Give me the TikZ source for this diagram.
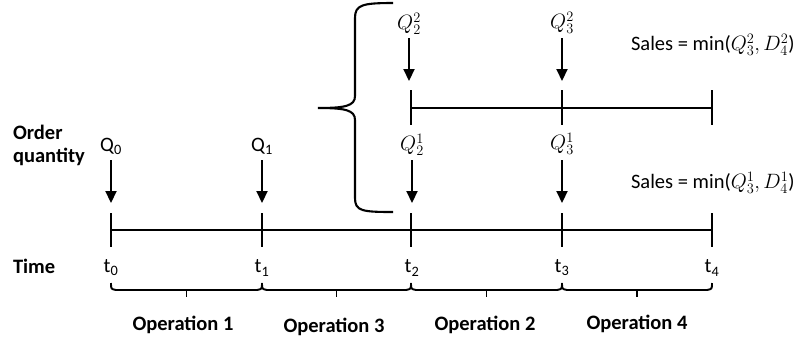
\documentclass[tikz,border=0pt]{standalone}
\usepackage{fontspec}
\setmainfont{Carlito}
\usetikzlibrary{arrows.meta}
\begin{document}
\begin{tikzpicture}[x=1pt,y=-1pt,
  font=\fontsize{20.5}{23}\selectfont,
  line width=2.1pt,
  arr/.style={-{Triangle[width=11pt,length=12pt]}, line width=2.1pt},
  lbl/.style={inner sep=0pt, anchor=center},
  hdr/.style={inner sep=0pt, anchor=west, font=\fontsize{20.5}{23}\selectfont\bfseries},
  opname/.style={inner sep=0pt, anchor=center, font=\fontsize{20.5}{23}\selectfont\bfseries},
  opbrace/.style={line width=1.9pt},
  tick/.style={line width=2.1pt}]
\useasboundingbox (0,0) rectangle (797,341);

% main timeline coordinates
\foreach \i/\x in {0/111,1/262,2/411,3/562,4/712}{
  \coordinate (T\i) at (\x,230);
  \coordinate (T\i u) at (\x,213);
  \coordinate (T\i d) at (\x,247);
  \coordinate (A\i) at (\x,203);
}
\draw (T0) -- (T4);
\foreach \i in {0,...,4}{ \draw[tick] (T\i u) -- (T\i d); }

% upper timeline
\foreach \i/\x in {2/411,3/562,4/712}{
  \coordinate (U\i) at (\x,108);
  \coordinate (U\i u) at (\x,90);
  \coordinate (U\i d) at (\x,125);
  \coordinate (B\i) at (\x,81);
}
\draw (U2) -- (U4);
\foreach \i in {2,3,4}{ \draw[tick] (U\i u) -- (U\i d); }

% labels on the left
\node[hdr] (order) at (12,132) {Order};
\node[hdr] (quant) at (12,157) {quantity};
\node[hdr] (time) at (12,266) {Time};

% order quantities on main line
\node[lbl] (q0) at (111,146) {Q\textsubscript{0}};
\node[lbl] (q1) at (262,146) {Q\textsubscript{1}};
\node[lbl] (q21) at (412,145) {$Q_2^1$};
\node[lbl] (q31) at (562,144) {$Q_3^1$};
\coordinate (s0) at (111,160);
\coordinate (s1) at (262,160);
\coordinate (s2) at (412,160);
\coordinate (s3) at (562,160);
\coordinate (A2b) at (412,203);
\draw[arr] (s0) -- (A0);
\draw[arr] (s1) -- (A1);
\draw[arr] (s2) -- (A2b);
\draw[arr] (s3) -- (A3);

% upper quantities
\node[lbl] (q22) at (409,24) {$Q_2^2$};
\node[lbl] (q32) at (562,23) {$Q_3^2$};
\coordinate (r2) at (409,38);
\coordinate (r3) at (562,38);
\coordinate (B2b) at (409,81);
\draw[arr] (r2) -- (B2b);
\draw[arr] (r3) -- (B3);

% time labels
\node[lbl] (t0) at (111,268) {t\textsubscript{0}};
\node[lbl] (t1) at (262,268) {t\textsubscript{1}};
\node[lbl] (t2) at (412,268) {t\textsubscript{2}};
\node[lbl] (t3) at (562,268) {t\textsubscript{3}};
\node[lbl] (t4) at (712,268) {t\textsubscript{4}};

% sales
\node[inner sep=0pt, anchor=west] (sales2) at (630,45) {Sales = min($Q_3^2, D_4^2$)};
\node[inner sep=0pt, anchor=west] (sales1) at (630,183) {Sales = min($Q_3^1, D_4^1$)};

% big brace
\coordinate (bt) at (393,3);
\coordinate (bb) at (393,212);
\coordinate (btip) at (318,108);
\draw[line width=2.1pt] (bt) .. controls (362,3) and (355,5) .. (355,18)
  -- (355,96) .. controls (355,106) and (345,108) .. (btip)
  .. controls (345,108) and (355,110) .. (355,120)
  -- (355,198) .. controls (355,211) and (362,212) .. (bb);

% operation brackets
\foreach \a/\b in {111/262,262/411,411/562,562/712}{
  \pgfmathsetmacro{\m}{(\a+\b)/2}
  \draw[opbrace] (\a,283) .. controls (\a,289) .. (\a+5,290) -- (\b-5,290) .. controls (\b,289) .. (\b,283);
  \draw[opbrace] (\m,290) -- (\m,297);
}
\node[opname] (op1) at (183,325) {Operation 1};
\node[opname] (op3) at (334,327) {Operation 3};
\node[opname] (op2) at (485,325) {Operation 2};
\node[opname] (op4) at (637,324) {Operation 4};
\end{tikzpicture}
\end{document}
